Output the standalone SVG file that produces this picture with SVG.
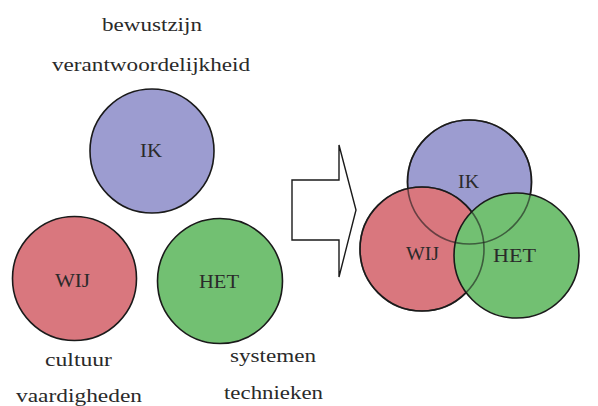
<svg xmlns="http://www.w3.org/2000/svg" width="598" height="406" viewBox="0 0 598 406">
<style>
text{font-family:"Liberation Serif","DejaVu Serif",serif;fill:#2a2a2a;font-size:18px;text-anchor:middle}
.ik{fill:#9c9cd0;stroke:#1a1a1a;stroke-width:1.6}
.wij{fill:#d9777e;stroke:#1a1a1a;stroke-width:1.6}
.het{fill:#72c072;stroke:#1a1a1a;stroke-width:1.6}
.ol{fill:none;stroke:#1a1a1a;stroke-width:1.6;stroke-opacity:0.6}
</style>
<rect width="598" height="406" fill="#fff"/>
<g id="labels-top">
<text x="152" y="31" textLength="100" lengthAdjust="spacingAndGlyphs">bewustzijn</text>
<text x="151" y="71" textLength="198" lengthAdjust="spacingAndGlyphs">verantwoordelijkheid</text>
</g>
<g id="ik-left"><circle class="ik" cx="152" cy="151" r="62"/><text x="151" y="157" textLength="22" lengthAdjust="spacingAndGlyphs">IK</text></g>
<g id="wij-left"><circle class="wij" cx="74.5" cy="278.5" r="62"/><text x="72.5" y="287" textLength="35" lengthAdjust="spacingAndGlyphs">WIJ</text></g>
<g id="het-left"><circle class="het" cx="220" cy="281" r="62.5"/><text x="219" y="288" textLength="40" lengthAdjust="spacingAndGlyphs">HET</text></g>
<g id="labels-bottom">
<text x="78.5" y="366" textLength="67" lengthAdjust="spacingAndGlyphs">cultuur</text>
<text x="79" y="402" textLength="126" lengthAdjust="spacingAndGlyphs">vaardigheden</text>
<text x="273" y="362" textLength="86" lengthAdjust="spacingAndGlyphs">systemen</text>
<text x="273.5" y="399" textLength="99" lengthAdjust="spacingAndGlyphs">technieken</text>
</g>
<g id="connectors">
<path d="M292,180 H339 V145 L356,210 L339,277 V240 H292 Z" fill="#fff" stroke="#1a1a1a" stroke-width="1.4"/>
</g>
<g id="venn">
<g id="ik-right"><circle class="ik" cx="469.5" cy="182" r="62"/></g>
<g id="wij-right"><circle class="wij" cx="422" cy="249" r="62"/></g>
<g id="het-right"><circle class="het" cx="516.5" cy="255.5" r="62.5"/></g>
<circle class="ol" cx="469.5" cy="182" r="62"/>
<circle class="ol" cx="422" cy="249" r="62"/>
<text x="468.5" y="188" textLength="21" lengthAdjust="spacingAndGlyphs">IK</text>
<text x="422.5" y="260" textLength="33" lengthAdjust="spacingAndGlyphs">WIJ</text>
<text x="514.5" y="262" textLength="43" lengthAdjust="spacingAndGlyphs">HET</text>
</g>
</svg>
